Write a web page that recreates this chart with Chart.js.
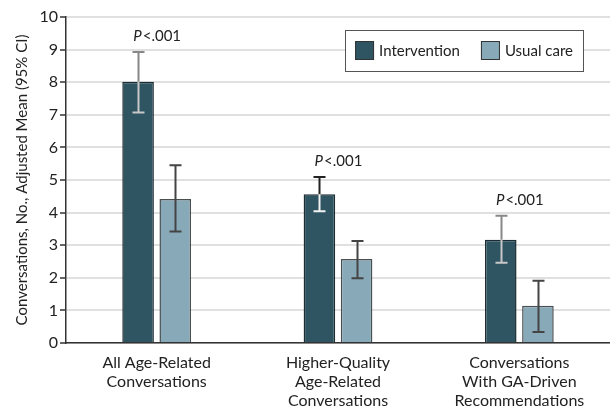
<!DOCTYPE html>
<html><head><meta charset="utf-8">
<script src="https://cdn.jsdelivr.net/npm/chart.js@4"></script>
<style>html,body{margin:0;padding:0;background:#fff;}#wrap{width:610px;height:408px;}</style>
</head><body><div id="wrap"><canvas id="c" width="610" height="408"></canvas></div>
<script>
const categories = [["All Age-Related","Conversations"],["Higher-Quality","Age-Related","Conversations"],["Conversations","With GA-Driven","Recommendations"]];
const seriesNames = ["Intervention","Usual care"];
const interventionMean = [8.01, 4.56, 3.17];
const interventionLow  = [7.07, 4.04, 2.46];
const interventionHigh = [8.93, 5.09, 3.90];
const usualMean = [4.42, 2.58, 1.14];
const usualLow  = [3.42, 1.99, 0.34];
const usualHigh = [5.45, 3.13, 1.91];
const pLabels = ["P<.001","P<.001","P<.001"];
const yTicks = [0,1,2,3,4,5,6,7,8,9,10];
const yTitle = "Conversations, No., Adjusted Mean (95% CI)";

const FONT = "Lato, 'Noto Sans', sans-serif";
const colors = {int:"#2f5562", usual:"#87a9b8"};

const errPlugin = {
  id:'err',
  afterDatasetsDraw(chart){
    const ctx = chart.ctx, y = chart.scales.y;
    const sets = [[interventionLow, interventionHigh, interventionMean], [usualLow, usualHigh, usualMean]];
    sets.forEach((s, di) => {
      const meta = chart.getDatasetMeta(di);
      meta.data.forEach((bar, i) => {
        const x = Math.round(bar.x) + 0.5;
        const lo = y.getPixelForValue(s[0][i]), hi = y.getPixelForValue(s[1][i]), m = y.getPixelForValue(s[2][i]);
        const cap = 6;
        ctx.save();
        ctx.lineWidth = 2;
        if (di === 0) {
          ctx.strokeStyle = i === 1 ? "#222" : "#888";
          ctx.beginPath(); ctx.moveTo(x, hi); ctx.lineTo(x, m); ctx.moveTo(x-cap, hi); ctx.lineTo(x+cap, hi); ctx.stroke();
          ctx.strokeStyle = i === 1 ? "#f2f2f2" : "#c8c8c8";
          ctx.beginPath(); ctx.moveTo(x, m); ctx.lineTo(x, lo); ctx.moveTo(x-cap, lo); ctx.lineTo(x+cap, lo); ctx.stroke();
        } else {
          ctx.strokeStyle = "#444";
          ctx.beginPath(); ctx.moveTo(x, hi); ctx.lineTo(x, lo); ctx.moveTo(x-cap, hi); ctx.lineTo(x+cap, hi); ctx.moveTo(x-cap, lo); ctx.lineTo(x+cap, lo); ctx.stroke();
        }
        ctx.restore();
        if (di === 0) {
          const cx = chart.scales.x.getPixelForValue(i);
          ctx.save();
          ctx.fillStyle = "#222";
          ctx.textBaseline = "middle";
          const f1 = "italic 15px " + FONT, f2 = "15px " + FONT;
          ctx.font = f1; const wP = ctx.measureText("P").width;
          ctx.font = f2; const rest = pLabels[i].slice(1); const wR = ctx.measureText(rest).width;
          const tx = cx - (wP + wR)/2, ty = hi - 16;
          ctx.font = f1; ctx.fillText("P", tx, ty);
          ctx.font = f2; ctx.fillText(rest, tx + wP + 1, ty);
          ctx.restore();
        }
      });
    });
    const a = chart.chartArea;
    ctx.save();
    ctx.font = "15px " + FONT;
    const w1 = ctx.measureText(seriesNames[0]).width, w2 = ctx.measureText(seriesNames[1]).width;
    const sw = 19, pad = 10, gapT = 5, gapI = 21;
    const bw = pad + sw + gapT + w1 + gapI + sw + gapT + w2 + pad;
    const right = a.right - 27, top = a.top + 13, bh = 41;
    const left = right - bw;
    ctx.fillStyle = "#fff";
    ctx.fillRect(left, top, bw, bh);
    ctx.strokeStyle = "#555"; ctx.lineWidth = 1;
    ctx.strokeRect(Math.round(left)+0.5, top+0.5, Math.round(bw), bh);
    let x = left + pad;
    const sy = top + (bh - sw)/2;
    [[colors.int, seriesNames[0], w1], [colors.usual, seriesNames[1], w2]].forEach(([c, t, w]) => {
      ctx.fillStyle = c; ctx.fillRect(x, sy, sw, sw);
      ctx.strokeStyle = "#333"; ctx.strokeRect(x+0.5, sy+0.5, sw-1, sw-1);
      ctx.fillStyle = "#222"; ctx.textBaseline = "middle";
      ctx.fillText(t, x + sw + gapT, top + bh/2 + 1);
      x += sw + gapT + w + gapI;
    });
    ctx.restore();
  }
};

new Chart(document.getElementById('c'), {
  type: 'bar',
  data: {
    labels: categories,
    datasets: [
      {label: seriesNames[0], data: interventionMean, backgroundColor: colors.int, borderColor: "#1c2c33", borderWidth: 1.5, barPercentage: 0.85, categoryPercentage: 0.41},
      {label: seriesNames[1], data: usualMean, backgroundColor: colors.usual, borderColor: "#4a4f52", borderWidth: 1.5, barPercentage: 0.85, categoryPercentage: 0.41}
    ]
  },
  options: {
    responsive: false,
    animation: false,
    layout: {padding: {top: 17, right: 0, left: 0, bottom: 0}},
    plugins: {legend: {display: false}, tooltip: {enabled: false}},
    scales: {
      x: {
        grid: {display: false, drawTicks: false},
        border: {color: "#333", width: 1.5},
        ticks: {color: "#222", font: {size: 16, family: FONT}, padding: 10, maxRotation: 0, autoSkip: false, lineHeight: 1.05},
        afterFit(s){ s.height = 65; }
      },
      y: {
        min: 0, max: 10,
        afterBuildTicks(s){ s.ticks = yTicks.map(v => ({value: v})); },
        grid: {color: "#e0e0e0", lineWidth: 2, drawTicks: true, tickLength: 6, tickColor: "#333", tickWidth: 1.5},
        border: {color: "#333", width: 1.5},
        ticks: {color: "#222", font: {size: 16, family: FONT}, padding: 2},
        title: {display: true, text: yTitle, color: "#222", font: {size: 15, family: FONT}, padding: {top: 13, bottom: 4}},
        afterFit(s){ s.width = 66; }
      }
    }
  },
  plugins: [errPlugin]
});
</script></body></html>
